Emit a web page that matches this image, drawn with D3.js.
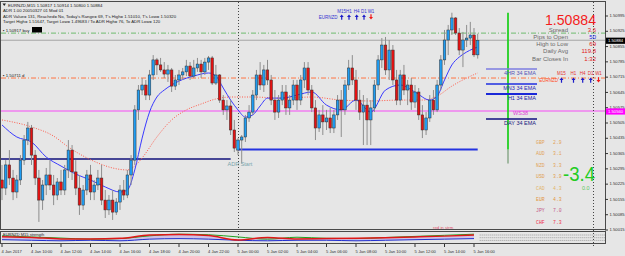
<!DOCTYPE html>
<html>
<head>
<meta charset="utf-8">
<script src="https://cdn.jsdelivr.net/npm/d3@7"></script>
<style>
body { margin: 0; background: #e6e6e6; }
svg { display: block; font-family: "Liberation Sans", Arial, sans-serif; }
</style>
</head>
<body>
<svg id="canvas" width="625" height="256"></svg>
<script>
// EURNZD M15 bars from 4 Jan 2017 08:00, prices in points above 1.50000
let openPts = [244,207,313,253,189,244,335,427,482,358,253,152,221,267,221,175,235,198,290,381,
  281,207,129,198,267,189,221,253,152,107,152,97,143,198,175,267,335,565,656,679,
  633,725,794,771,748,729,748,674,702,725,739,766,720,757,775,739,784,803,688,725,
  610,565,583,473,381,427,441,528,555,633,725,679,748,702,610,555,610,647,574,610,
  679,610,702,757,656,574,482,542,510,528,482,542,610,565,679,757,702,610,555,587,
  519,574,679,794,862,748,839,702,610,725,656,679,601,647,542,473,528,610,565,679,
  794,885,931,986,917,839,885,894,908,817]
let highPts = [313,335,381,290,267,358,450,510,496,381,290,244,299,335,267,253,290,313,427,404,
  335,267,221,290,313,244,290,313,198,175,198,161,221,244,290,358,587,679,711,702,
  748,816,803,803,784,771,757,725,748,757,794,784,794,803,794,803,812,812,771,729,
  633,610,610,519,436,450,542,587,656,748,784,771,794,725,656,633,679,679,633,702,
  702,725,784,784,679,610,565,587,565,574,565,633,656,702,794,816,748,656,633,619,
  610,702,816,894,899,885,862,748,748,771,702,711,679,665,587,555,633,656,702,816,
  931,954,1010,990,940,922,954,968,940,914]
let lowPts = [152,175,221,152,161,221,313,404,313,221,52,107,175,198,129,152,175,175,253,244,
  175,84,107,175,152,152,198,129,70,84,61,84,107,152,161,221,313,519,633,610,
  610,702,725,739,711,693,647,656,679,702,720,702,711,739,711,725,748,679,679,597,
  542,519,450,372,358,320,418,510,542,610,656,647,679,587,519,528,587,542,542,587,
  565,587,665,633,555,427,464,450,473,459,459,519,441,542,656,679,565,519,404,404,
  404,555,656,757,725,702,679,587,587,633,587,565,574,519,436,450,510,542,555,656,
  771,816,908,908,816,761,853,862,807,800]
let closePts = [207,313,253,189,244,335,427,482,358,253,152,221,267,221,175,235,198,290,381,281,
  207,129,198,267,189,221,253,152,107,152,97,143,198,175,267,335,565,656,679,633,
  725,794,771,748,729,748,674,702,725,739,766,720,757,775,739,784,803,688,725,610,
  565,583,473,390,427,441,528,555,633,725,679,748,702,610,555,610,647,574,610,679,
  610,702,757,656,574,482,542,510,528,482,542,610,565,679,757,702,610,555,587,519,
  574,679,794,862,748,839,702,610,725,656,679,601,647,542,473,528,610,565,679,794,
  885,931,986,917,839,885,894,908,817,884]

// 34 EMA (blue) and slow MA (red dotted) read at bar indices
let emaBars = [0,4,8,12,16,20,24,28,32,34,36,38,40,42,44,46,48,52,56,58,60,62,64,66,68,70,72,76,80,84,88,92,96,100,104,108,112,116,118,120,122,124,126,129]
let emaPts = [496,441,418,349,308,271,244,212,189,198,290,436,555,624,656,679,697,720,734,720,665,610,565,532,542,583,619,619,633,647,587,565,610,555,656,679,647,610,628,702,771,807,830,853]
let maBars = [0,8,14,18,22,26,30,34,36,38,42,46,50,54,58,62,68,76,84,92,100,108,114,118,122,126,129]
let maPts = [519,487,445,395,354,322,299,290,308,345,441,519,565,592,615,624,624,619,624,610,606,610,610,628,674,711,734]

let priceTicks = [1.50015,1.50085,1.50155,1.50225,1.50295,1.50365,1.50435,1.50505,1.50575,1.50645,1.50715,1.50785,1.50855,1.50925,1.50995]
let timeLabels = ['4 Jan 2017','4 Jan 10:00','4 Jan 12:00','4 Jan 14:00','4 Jan 16:00','4 Jan 18:00','4 Jan 20:00','4 Jan 22:00',
  '5 Jan 00:00','5 Jan 02:00','5 Jan 04:00','5 Jan 06:00','5 Jan 08:00','5 Jan 10:00','5 Jan 12:00','5 Jan 14:00','5 Jan 16:00']

let headerLines = [
  'EURNZD,M15  1.50817 1.50914 1.50800 1.50884',
  'ADR 1.00 20050327 01 Mod 01',
  "ADR Value= 131, Reached= No, Today's Range= 69, T's High= 1.51010, T's Low= 1.50320",
  'Target High= 1.51647, Target Low= 1.49683 / To ADR High= 76, To ADR Low= 120'
]

let lastPrice = 1.50884
let targetLevel = 1.50917
let pivotLevel = 1.50711
let ws38Level = 1.50560
let prevOpen = 1.50340
let dayOpen = 1.50384
let dayHigh = 1.51010
let dayLow = 1.50320

let emaNames = ['4HR 34 EMA', 'MN3 34 EMA', 'H1 34 EMA', 'DAY 34 EMA']
let emaLevels = [1.50752, 1.50684, 1.50638, 1.50523]

let infoLabels = ['Spread', 'Pips to Open', 'High to Low', 'Daily Avg', 'Bar Closes In']
let infoValues = ['3.6', '50', '69', '119.8', '1:32']

let timeframes = ['M15', 'H1', 'H4', 'D1', 'W1']
let trendUp = [true, true, true, true, false]

let currencies = ['GBP', 'AUD', 'NZD', 'USD', 'CAD', 'EUR', 'JPY', 'CHF']
let strength = ['2.9', '3.1', '3.3', '3.9', '4.3', '4.3', '7.0', '7.3']
let strengthDiff = '-3.4'
let strengthChange = '0.0'

let oscBars = [0,8,16,24,32,40,48,56,64,72,80,88,96,104,112,120,128]
let oscRed = [0.15,0.0,-0.25,-0.25,-0.15,0.45,0.55,0.35,-0.45,0.0,-0.25,-0.2,-0.15,-0.05,0.1,0.25,0.45]
let oscGreen = [0.3,0.1,-0.1,-0.3,-0.2,0.3,0.6,0.5,0.1,-0.3,0.05,-0.15,-0.2,0.0,0.2,0.4,0.6]
let oscBlue = [-0.4,-0.5,-0.6,-0.5,-0.6,-0.3,-0.2,-0.3,-0.5,-0.6,-0.5,-0.5,-0.6,-0.5,-0.4,-0.3,-0.2]

let svg = d3.select('#canvas')
let px = (v) => 1.5 + v / 1e5

let t0 = new Date(2017, 0, 4, 8, 0)
let barTime = (i) => d3.timeMinute.offset(t0, 15 * i)
let times = d3.range(openPts.length).map(barTime)
let x = d3.scaleTime().domain([t0, new Date(2017, 0, 5, 0, 0)]).range([2, 238])
let y = d3.scaleLinear().domain([1.50015, 1.50995]).range([230, 16])
let yOsc = d3.scaleLinear().domain([-1, 1]).range([243, 232])

// frames
svg.append('rect').attr('x', 0.5).attr('y', 1.5).attr('width', 605).attr('height', 228)
  .attr('fill', '#e6e6e6').attr('stroke', '#4a4a4a')
svg.append('rect').attr('x', 0.5).attr('y', 231.5).attr('width', 605).attr('height', 12)
  .attr('fill', '#e6e6e6').attr('stroke', '#4a4a4a')

svg.append('clipPath').attr('id', 'main').append('rect')
  .attr('x', 1).attr('y', 2).attr('width', 604).attr('height', 227)
let chart = svg.append('g').attr('clip-path', 'url(#main)')

let hline = (price, x1, x2, color, width, dash) => {
  chart.append('line').attr('x1', x1).attr('x2', x2)
    .attr('y1', y(price)).attr('y2', y(price))
    .attr('stroke', color).attr('stroke-width', width)
    .attr('stroke-dasharray', dash)
}

hline(ws38Level, 1, 605, '#f07ef0', 1.5, null)
hline(targetLevel, 1, 605, '#86c486', 1.2, '5,2,1,2')
hline(pivotLevel, 1, 605, '#ff7443', 1, '5,2,1,2')
hline(lastPrice, 1, 605, '#a4a4a4', 1, null)
hline(prevOpen, 1, x(barTime(62)), '#10107a', 1.5, null)
hline(dayOpen, x(barTime(64)), x(barTime(129)), '#2433e0', 2, null)

// separators
chart.append('line').attr('x1', 238.5).attr('x2', 238.5).attr('y1', 2).attr('y2', 229)
  .attr('stroke', '#444').attr('stroke-dasharray', '1,2')
svg.append('line').attr('x1', 238.5).attr('x2', 238.5).attr('y1', 231).attr('y2', 244)
  .attr('stroke', '#444').attr('stroke-dasharray', '1,2')
svg.append('line').attr('x1', 593.5).attr('x2', 593.5).attr('y1', 2).attr('y2', 247)
  .attr('stroke', '#444').attr('stroke-dasharray', '1,2')

// moving averages
chart.append('path')
  .attr('d', d3.line().x((d, i) => x(barTime(maBars[i]))).y((d) => y(px(d))).curve(d3.curveMonotoneX)(maPts))
  .attr('fill', 'none').attr('stroke', '#ff5a4a').attr('stroke-width', 1).attr('stroke-dasharray', '1,1.5')
chart.append('path')
  .attr('d', d3.line().x((d, i) => x(barTime(emaBars[i]))).y((d) => y(px(d))).curve(d3.curveMonotoneX)(emaPts))
  .attr('fill', 'none').attr('stroke', '#3a3aff').attr('stroke-width', 1)

// candles
let bars = times.map((t, i) => ({ t: t, o: px(openPts[i]), h: px(highPts[i]), l: px(lowPts[i]), c: px(closePts[i]) }))

chart.selectAll('line.wick')
  .data(bars)
  .enter()
  .append('line')
  .attr('class', 'wick')
  .attr('x1', (d) => x(d.t)).attr('x2', (d) => x(d.t))
  .attr('y1', (d) => y(d.h)).attr('y2', (d) => y(d.l))
  .attr('stroke', '#8e8e8e').attr('stroke-width', 1)

chart.selectAll('rect.body')
  .data(bars)
  .enter()
  .append('rect')
  .attr('class', 'body')
  .attr('x', (d) => x(d.t) - 1.3)
  .attr('width', 2.6)
  .attr('y', (d) => y(Math.max(d.o, d.c)))
  .attr('height', (d) => Math.max(1, Math.abs(y(d.o) - y(d.c))))
  .attr('fill', (d) => d.c >= d.o ? '#1f9cf2' : '#e31212')
  .attr('stroke', '#303030').attr('stroke-width', 0.5)

// ADR range bar
chart.append('line').attr('x1', 508).attr('x2', 508).attr('y1', y(dayOpen)).attr('y2', y(dayLow))
  .attr('stroke', '#8aa88a').attr('stroke-width', 1.5)
chart.append('line').attr('x1', 508).attr('x2', 508).attr('y1', y(dayHigh)).attr('y2', y(dayOpen))
  .attr('stroke', '#22d022').attr('stroke-width', 1.8)

chart.append('text').attr('x', 227.5).attr('y', 165.5).attr('font-size', 5.5)
  .attr('fill', '#78a4ac').text('ADR Start')

// EMA level markers
let emaColors = ['#7d7de0', '#1f2fe0', '#1a28d8', '#101080']
let emaText = ['#5656b8', '#2a2ab8', '#2020a8', '#202080']
let emaWidth = [1.5, 1.5, 2, 1.5]
emaLevels.forEach((lv, i) => {
  chart.append('line').attr('x1', 486).attr('x2', 537).attr('y1', y(lv)).attr('y2', y(lv))
    .attr('stroke', emaColors[i]).attr('stroke-width', emaWidth[i])
  chart.append('text').attr('x', 536).attr('y', y(lv) + 5.6).attr('text-anchor', 'end')
    .attr('font-size', 5.5).attr('fill', emaText[i]).text(emaNames[i])
})
chart.append('text').attr('x', 528).attr('y', y(ws38Level) + 4.3).attr('text-anchor', 'end')
  .attr('font-size', 5.5).attr('fill', '#e040d8').text('WS38')

// header
headerLines.forEach((line, i) => {
  svg.append('text').attr('x', i === 0 ? 8 : 3).attr('y', [6.5, 12.3, 17.5, 23.2][i])
    .attr('font-size', 4.3).attr('fill', '#202020').text(line)
})
svg.append('path').attr('d', 'M2.5,3.5 L6,3.5 L4.25,6 Z').attr('fill', '#202020')
svg.append('text').attr('x', 3).attr('y', 31.5).attr('font-size', 4.3).attr('fill', '#202020')
  .text('\u25AA ' + targetLevel.toFixed(5) + ' buy')
svg.append('rect').attr('x', 32).attr('y', 27).attr('width', 10).attr('height', 5.5).attr('fill', '#000')
svg.append('text').attr('x', 3).attr('y', 76.5).attr('font-size', 4.3).attr('fill', '#202020')
  .text('\u25AA ' + pivotLevel.toFixed(5) + ' d')

// trend arrows
let arrowPath = (cx, cy, up) => {
  let s = up ? 1 : -1
  return `M${cx - 0.6},${cy + 2.8 * s} L${cx - 0.6},${cy} L${cx - 2},${cy} L${cx},${cy - 2.6 * s} L${cx + 2},${cy} L${cx + 0.6},${cy} L${cx + 0.6},${cy + 2.8 * s} Z`
}
let drawArrows = (xs, labelY, arrowY, labelColor, nameX, nameColor) => {
  timeframes.forEach((tf, i) => {
    svg.append('text').attr('x', xs[i]).attr('y', labelY).attr('text-anchor', 'middle')
      .attr('font-size', 4.5).attr('fill', labelColor).text(tf)
    svg.append('path').attr('d', arrowPath(xs[i], arrowY, trendUp[i]))
      .attr('fill', trendUp[i] ? '#1c1cc8' : '#f01818')
  })
  svg.append('text').attr('x', nameX).attr('y', arrowY + 1.6).attr('text-anchor', 'end')
    .attr('font-size', 4.5).attr('fill', nameColor).text('EURNZD')
}
drawArrows([341.7, 349, 356.7, 364, 371], 12.5, 17, '#3434d0', 337.5, '#3434d0')
drawArrows([561.5, 573.5, 582.7, 590.7, 598.5], 74.8, 80, '#e43030', 558, '#ff4a20')

// price info panel
svg.append('text').attr('x', 545).attr('y', 24.8).attr('font-size', 15)
  .attr('textLength', 51).attr('lengthAdjust', 'spacingAndGlyphs')
  .attr('fill', '#f41c1c').text(lastPrice.toFixed(5))
let infoColors = ['#e02020', '#2020e0', '#e02020', '#e02020', '#e02020']
infoLabels.forEach((lab, i) => {
  svg.append('text').attr('x', 568).attr('y', 31.8 + i * 7.2).attr('text-anchor', 'end')
    .attr('font-size', 6).attr('fill', '#6a6a6a').text(lab)
  svg.append('text').attr('x', 596).attr('y', 31.8 + i * 7.2).attr('text-anchor', 'end')
    .attr('font-size', 6).attr('fill', infoColors[i]).text(infoValues[i])
})

// currency strength
let strengthColors = ['#e2a458', '#e2a458', '#e2a458', '#e0a050', '#e2b468', '#e29640', '#c45a86', '#f0304a']
currencies.forEach((cur, i) => {
  svg.append('text').attr('x', 536).attr('y', 144 + i * 11.4).attr('font-size', 4.8)
    .attr('font-family', '"Liberation Mono", monospace').attr('fill', strengthColors[i]).text(cur)
  svg.append('text').attr('x', 553).attr('y', 144 + i * 11.4).attr('font-size', 4.8)
    .attr('font-family', '"Liberation Mono", monospace').attr('fill', strengthColors[i]).text(strength[i])
})
svg.append('text').attr('x', 563).attr('y', 181).attr('font-size', 21)
  .attr('textLength', 32).attr('lengthAdjust', 'spacingAndGlyphs')
  .attr('fill', '#22cc22').text(strengthDiff)
svg.append('text').attr('x', 582).attr('y', 189.5).attr('font-size', 5.5)
  .attr('fill', '#5cc85c').text(strengthChange)

chart.append('text').attr('x', 433).attr('y', 228.5).attr('font-size', 4.3)
  .attr('fill', '#e0506a').text('red in strm')

// price axis
priceTicks.forEach((p) => {
  svg.append('line').attr('x1', 605).attr('x2', 608).attr('y1', y(p)).attr('y2', y(p)).attr('stroke', '#333')
  svg.append('text').attr('x', 609.5).attr('y', y(p) + 1.2).attr('font-size', 4.2)
    .attr('fill', '#303030').text(p.toFixed(5))
})
let axisBox = (price, fill) => {
  svg.append('rect').attr('x', 606).attr('y', y(price) - 2.6).attr('width', 19).attr('height', 6.2).attr('fill', fill)
  svg.append('text').attr('x', 608).attr('y', y(price) + 2).attr('font-size', 4.2)
    .attr('fill', '#fff').text(price.toFixed(5))
}
axisBox(lastPrice, '#000')
axisBox(ws38Level, '#ff00ff')

// indicator window
let osc = svg.append('g')
let oscX = (d, i) => x(barTime(oscBars[i]))
osc.append('path')
  .attr('d', d3.area().x((d, i) => oscX(d, i)).y0((d) => yOsc(d)).y1((d, i) => yOsc(oscRed[i])).curve(d3.curveMonotoneX)(oscBlue))
  .attr('fill', '#c9b8e6').attr('opacity', 0.8)
osc.append('path').attr('d', d3.line().x(oscX).y((d) => yOsc(d)).curve(d3.curveMonotoneX)(oscBlue))
  .attr('fill', 'none').attr('stroke', '#2030d0').attr('stroke-width', 1)
osc.append('path').attr('d', d3.line().x(oscX).y((d) => yOsc(d)).curve(d3.curveMonotoneX)(oscGreen))
  .attr('fill', 'none').attr('stroke', '#20a020').attr('stroke-width', 1)
osc.append('path').attr('d', d3.line().x(oscX).y((d) => yOsc(d)).curve(d3.curveMonotoneX)(oscRed))
  .attr('fill', 'none').attr('stroke', '#e01818').attr('stroke-width', 1.5)
;[235, 237.7, 240.4].forEach((ly) => {
  osc.append('line').attr('x1', x(barTime(129)) + 2).attr('x2', 605).attr('y1', ly).attr('y2', ly)
    .attr('stroke', '#9a9a9a').attr('stroke-dasharray', '1,1')
})
osc.append('text').attr('x', 3).attr('y', 236).attr('font-size', 4).attr('fill', '#202020')
  .text('EURNZD M15 strength')

// time axis
timeLabels.forEach((lab, i) => {
  let tx = x(barTime(i * 8))
  svg.append('line').attr('x1', tx).attr('x2', tx).attr('y1', 244).attr('y2', 247).attr('stroke', '#333')
  svg.append('text').attr('x', tx - 0.5).attr('y', 252.5).attr('font-size', 4.1)
    .attr('fill', '#303030').text(lab)
})
</script>
</body>
</html>
